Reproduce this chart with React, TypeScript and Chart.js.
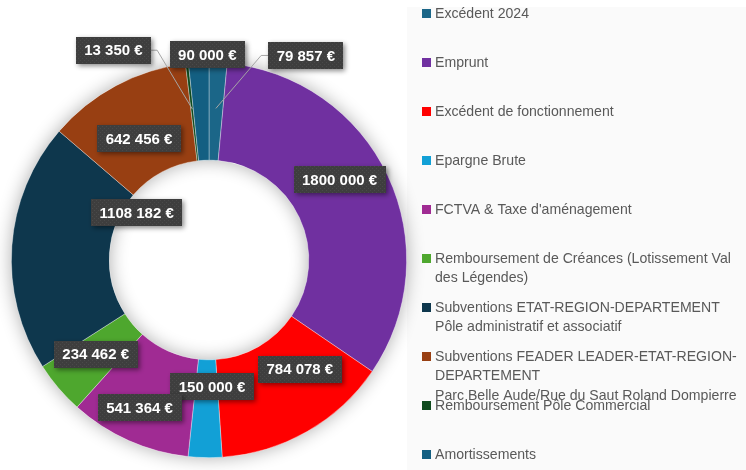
import React, { useEffect, useRef } from "react";
import { Chart, registerables } from "chart.js";

Chart.register(...registerables);

const categories: string[] = [
  "Excédent 2024",
  "Emprunt",
  "Excédent de fonctionnement",
  "Epargne Brute",
  "FCTVA & Taxe d'aménagement",
  "Remboursement de Créances (Lotissement Val\ndes Légendes)",
  "Subventions ETAT-REGION-DEPARTEMENT\nPôle administratif et associatif",
  "Subventions FEADER LEADER-ETAT-REGION-\nDEPARTEMENT\nParc Belle Aude/Rue du Saut Roland Dompierre",
  "Remboursement Pôle Commercial",
  "Amortissements",
];

const values: number[] = [79857, 1800000, 784078, 150000, 541364, 234462, 1108182, 642456, 13350, 90000];

const colors: string[] = [
  "#1b6688",
  "#7030a0",
  "#ff0000",
  "#12a0d6",
  "#a02b93",
  "#4ea72e",
  "#0e374d",
  "#983f12",
  "#0f4a1d",
  "#135f82",
];

// label box centre offsets from each slice's mid-ring point (manual placement as in the source)
const labelOffsets: [number, number][] = [
  [90, -56],
  [-4, -17],
  [17, -20],
  [6, -22],
  [-9, 12],
  [0, -2],
  [76, -37],
  [0, 10],
  [-79, -62],
  [6, -57],
];
// which labels get a leader line
const leaderLines: boolean[] = [true, false, false, false, false, false, false, false, true, false];

const fmt = (v: number) => {
  const s = String(Math.round(v));
  return (s.length > 3 ? s.slice(0, -3) + " " + s.slice(-3) : s) + " €";
};

let patternCache: CanvasPattern | null = null;
function getPattern(ctx: CanvasRenderingContext2D) {
  if (patternCache) return patternCache;
  const c = document.createElement("canvas");
  c.width = 4;
  c.height = 4;
  const p = c.getContext("2d")!;
  p.fillStyle = "#3e3e3e";
  p.fillRect(0, 0, 4, 4);
  p.fillStyle = "#4a4a4a";
  p.fillRect(0, 0, 1, 1);
  p.fillRect(2, 2, 1, 1);
  patternCache = ctx.createPattern(c, "repeat");
  return patternCache;
}

const backgroundPlugin = {
  id: "bgPanel",
  beforeDraw(chart: any) {
    const ctx = chart.ctx as CanvasRenderingContext2D;
    ctx.save();
    ctx.fillStyle = "#ffffff";
    ctx.fillRect(0, 0, chart.width, chart.height);
    ctx.fillStyle = "#fafafa";
    ctx.fillRect(407, 7, chart.width - 407, chart.height - 7);
    ctx.restore();
  },
};

const ringShadowPlugin = {
  id: "ringShadow",
  beforeDatasetsDraw(chart: any) {
    const meta = chart.getDatasetMeta(0);
    const a = meta.data[0];
    if (!a) return;
    const ctx = chart.ctx as CanvasRenderingContext2D;
    ctx.save();
    ctx.shadowColor = "rgba(0,0,0,0.32)";
    ctx.shadowBlur = 18;
    ctx.fillStyle = "#ffffff";
    ctx.beginPath();
    ctx.arc(a.x, a.y, a.outerRadius, 0, Math.PI * 2);
    ctx.arc(a.x, a.y, a.innerRadius, 0, Math.PI * 2, true);
    ctx.closePath();
    ctx.fill();
    ctx.restore();
  },
};

const labelsPlugin = {
  id: "boxLabels",
  afterDatasetsDraw(chart: any) {
    const ctx = chart.ctx as CanvasRenderingContext2D;
    const meta = chart.getDatasetMeta(0);
    ctx.save();
    ctx.font = 'bold 15px "Liberation Sans", Arial, sans-serif';
    ctx.textAlign = "center";
    ctx.textBaseline = "middle";
    const boxes: any[] = [];
    meta.data.forEach((arc: any, i: number) => {
      const mid = arc.getCenterPoint ? arc.getCenterPoint() : arc.tooltipPosition();
      const [dx, dy] = labelOffsets[i];
      const cx = mid.x + dx;
      const cy = mid.y + dy;
      const text = fmt(values[i]);
      const w = ctx.measureText(text).width + 17;
      const h = 27;
      boxes.push({ mid, cx, cy, w, h, text, i });
    });
    // leader lines
    ctx.strokeStyle = "#a6a6a6";
    ctx.lineWidth = 1;
    boxes.forEach((b) => {
      if (!leaderLines[b.i]) return;
      const leftSide = b.mid.x < b.cx;
      const sx = leftSide ? b.cx - b.w / 2 : b.cx + b.w / 2;
      const sy = b.cy;
      const kx = leftSide ? sx - 7 : sx + 6;
      ctx.beginPath();
      ctx.moveTo(sx, sy);
      ctx.lineTo(kx, sy);
      ctx.lineTo(b.mid.x, b.mid.y - 3);
      ctx.stroke();
    });
    boxes.forEach((b) => {
      const x = Math.round(b.cx - b.w / 2);
      const y = Math.round(b.cy - b.h / 2);
      ctx.save();
      ctx.shadowColor = "rgba(0,0,0,0.45)";
      ctx.shadowBlur = 5;
      ctx.shadowOffsetX = 2;
      ctx.shadowOffsetY = 2;
      ctx.fillStyle = getPattern(ctx) || "#3e3e3e";
      ctx.fillRect(x, y, Math.round(b.w), b.h);
      ctx.restore();
      ctx.fillStyle = "#ffffff";
      ctx.fillText(b.text, b.cx, b.cy + 1);
    });
    ctx.restore();
  },
};

const legendPlugin = {
  id: "customLegend",
  afterDraw(chart: any) {
    const ctx = chart.ctx as CanvasRenderingContext2D;
    ctx.save();
    ctx.font = '14.1px "Liberation Sans", Arial, sans-serif';
    ctx.textBaseline = "middle";
    ctx.textAlign = "left";
    const x0 = 422;
    const top = 13.5;
    const step = 49;
    const lineH = 19.5;
    categories.forEach((cat, i) => {
      const y = top + i * step;
      ctx.fillStyle = colors[i];
      ctx.fillRect(x0, Math.round(y - 4.5), 9, 9);
      ctx.fillStyle = "#595959";
      cat.split("\n").forEach((ln, k) => {
        ctx.fillText(ln, x0 + 13, y + k * lineH + 0.5);
      });
    });
    ctx.restore();
  },
};

export default function App() {
  const ref = useRef<HTMLCanvasElement | null>(null);
  useEffect(() => {
    if (!ref.current) return;
    const chart = new Chart(ref.current, {
      type: "doughnut",
      data: {
        labels: categories.map((c) => c.replace(/\n/g, " ")),
        datasets: [
          {
            data: values,
            backgroundColor: colors,
            borderColor: "rgba(255,255,255,0.45)",
            borderWidth: 0.75,
          },
        ],
      },
      options: {
        responsive: false,
        animation: false,
        cutout: "50.5%",
        layout: { padding: { left: 11, top: 62, right: 339, bottom: 12 } },
        plugins: {
          legend: { display: false },
          tooltip: { enabled: false },
          title: { display: false },
        },
      },
      plugins: [backgroundPlugin, ringShadowPlugin, labelsPlugin, legendPlugin],
    });
    return () => chart.destroy();
  }, []);
  return (
    <div style={{ position: "fixed", left: 0, top: 0, width: 746, height: 470 }}>
      <canvas ref={ref} width={746} height={470} style={{ display: "block" }} />
    </div>
  );
}
